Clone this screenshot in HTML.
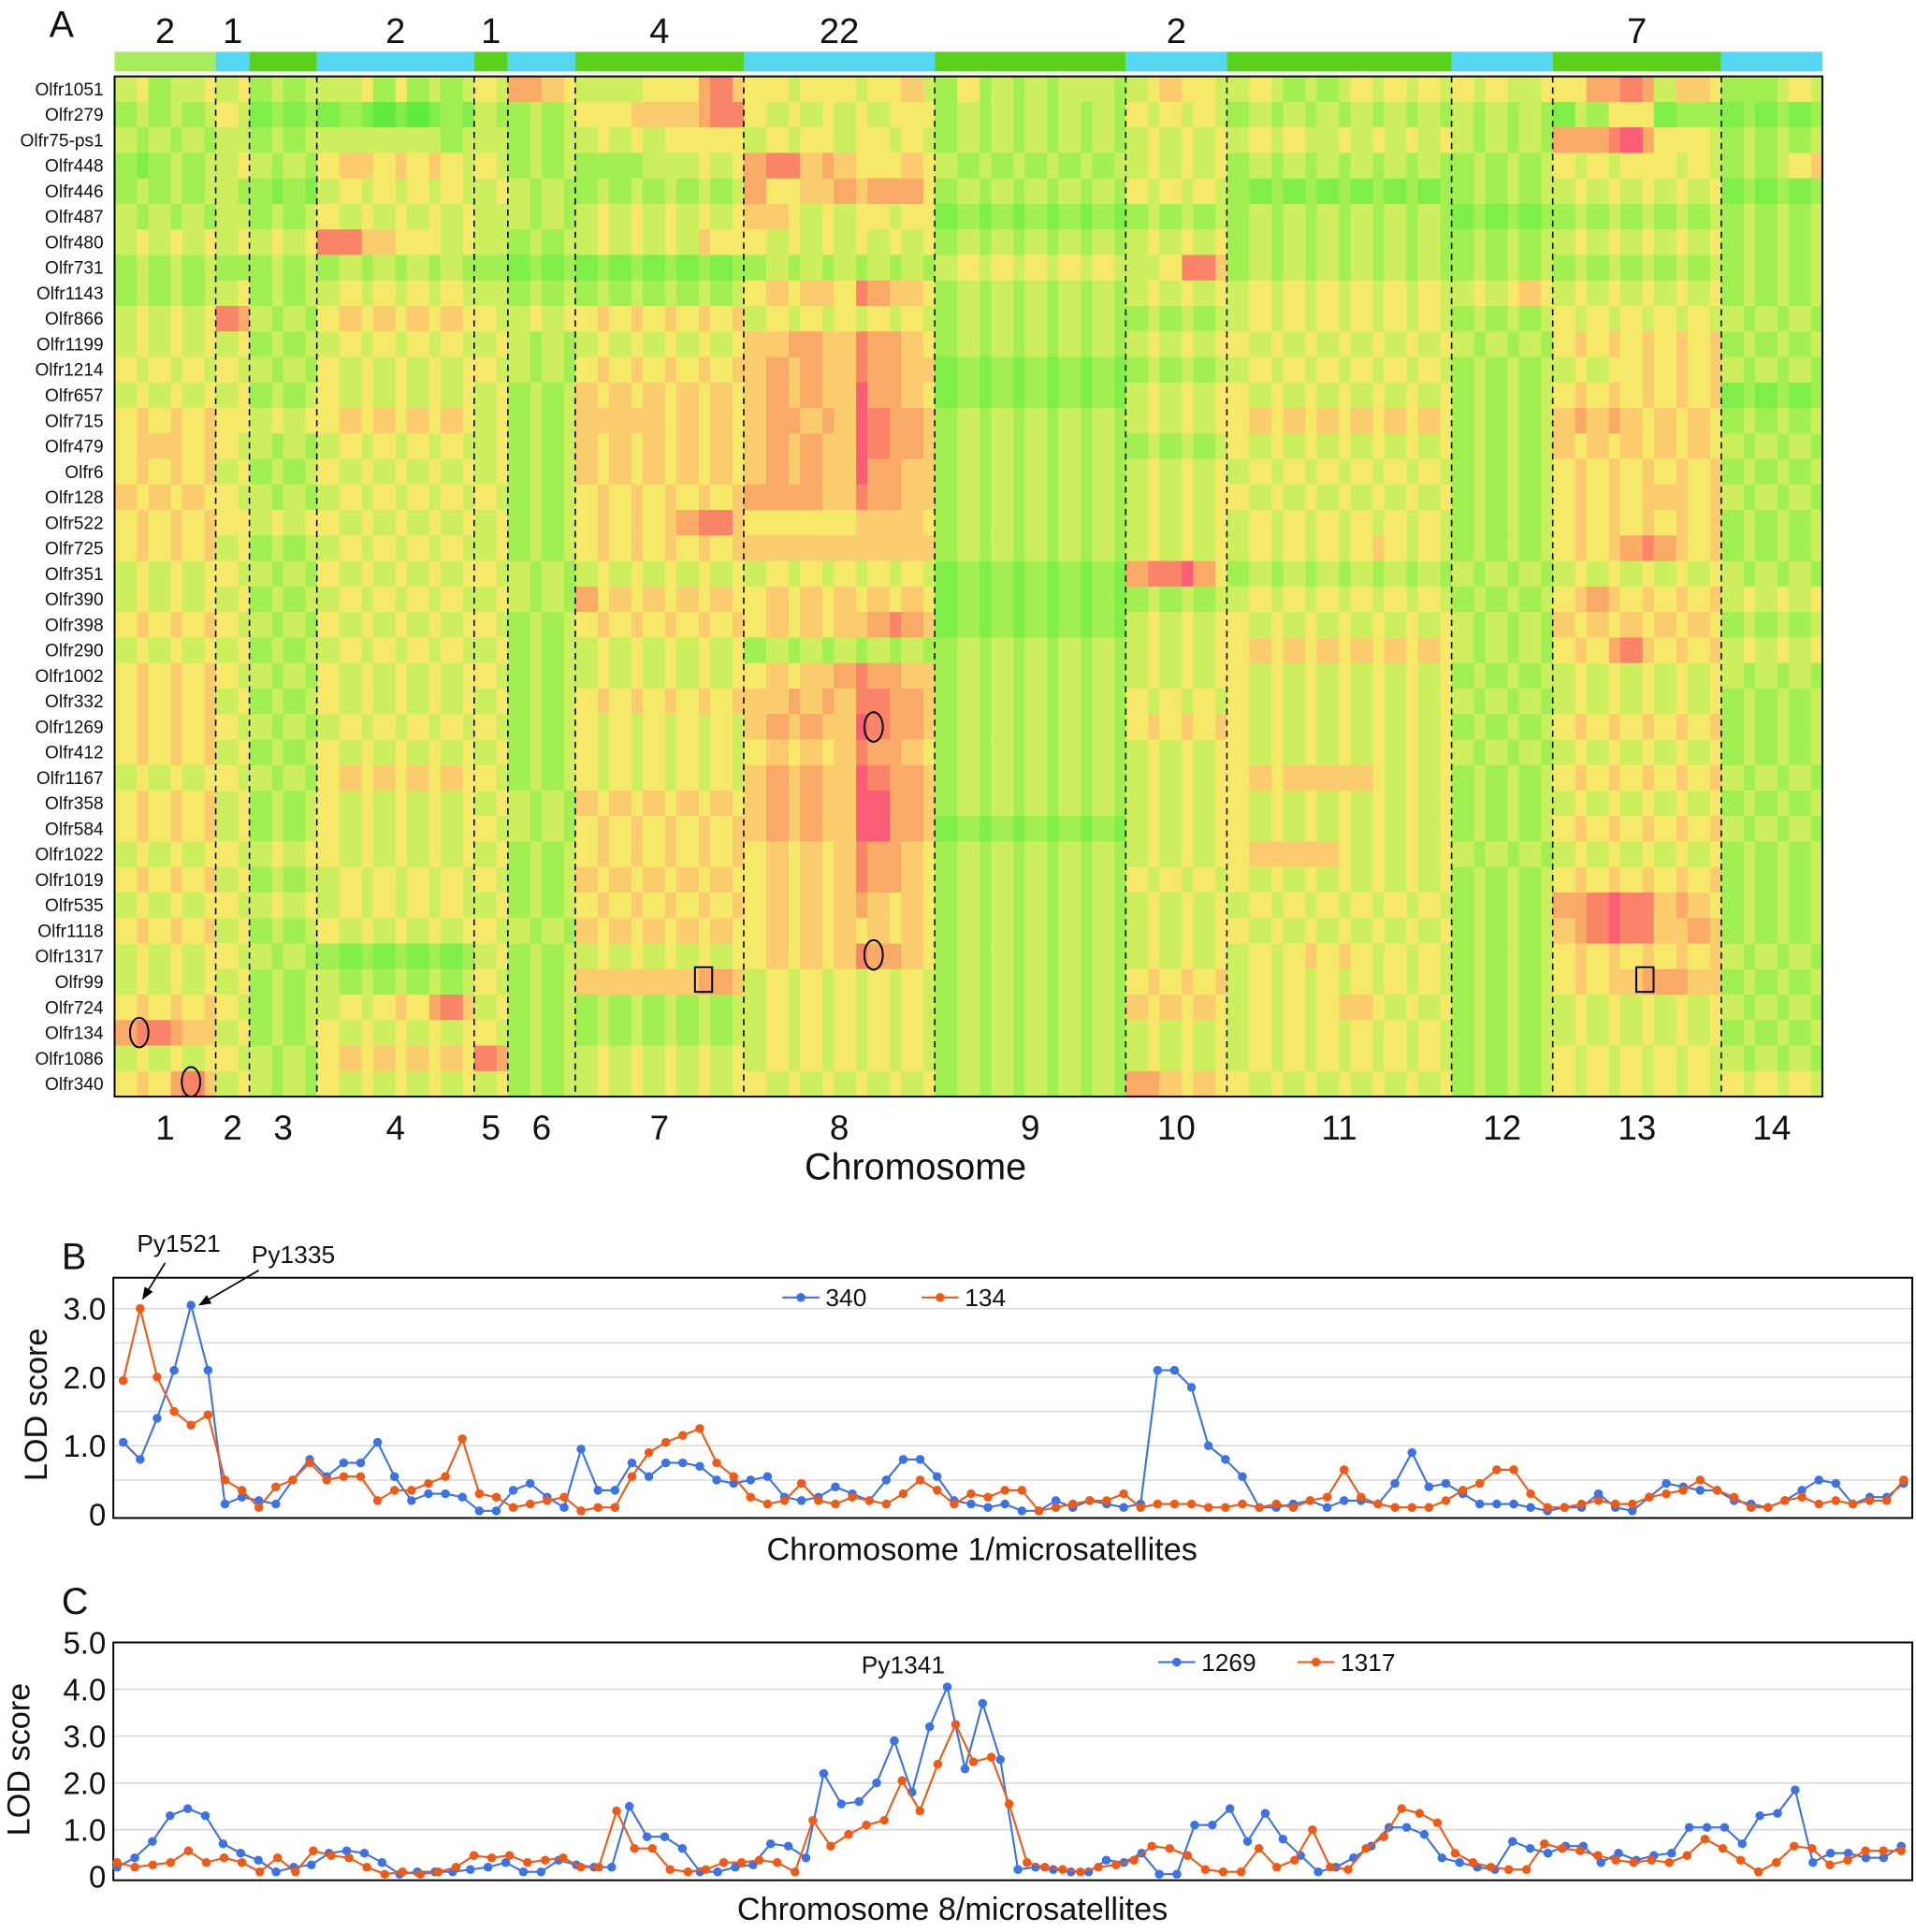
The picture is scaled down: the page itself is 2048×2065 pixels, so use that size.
<!DOCTYPE html>
<html><head><meta charset="utf-8"><title>Olfr eQTL heatmap and LOD plots</title>
<style>
html,body{margin:0;padding:0;background:#fff;}
svg{display:block;font-family:"Liberation Sans",Arial,sans-serif;}
</style></head>
<body>
<svg id="fig" width="2048" height="2065" viewBox="0 0 1555 1568" preserveAspectRatio="none" xmlns="http://www.w3.org/2000/svg">
<rect width="1555" height="1568" fill="#fff"/>
<g id="heat"></g>
<g id="panelB"></g>
<g id="panelC"></g>
</svg>
<script>
const NS="http://www.w3.org/2000/svg";
function mk(parent,tag,attrs,text){const e=document.createElementNS(NS,tag);for(const k in attrs)e.setAttribute(k,attrs[k]);if(text!==undefined)e.textContent=text;parent.appendChild(e);return e;}

// ===== Panel A data =====
const geneNames=["Olfr1051","Olfr279","Olfr75-ps1","Olfr448","Olfr446","Olfr487","Olfr480","Olfr731","Olfr1143","Olfr866","Olfr1199","Olfr1214","Olfr657","Olfr715","Olfr479","Olfr6","Olfr128","Olfr522","Olfr725","Olfr351","Olfr390","Olfr398","Olfr290","Olfr1002","Olfr332","Olfr1269","Olfr412","Olfr1167","Olfr358","Olfr584","Olfr1022","Olfr1019","Olfr535","Olfr1118","Olfr1317","Olfr99","Olfr724","Olfr134","Olfr1086","Olfr340"];
const chromLabels=["1","2","3","4","5","6","7","8","9","10","11","12","13","14"];
const chromCols=[9,3,6,14,3,6,15,17,17,9,20,9,15,9];
const topCounts=[["2",0],["1",1],["2",3],["1",4],["4",6],["22",7],["2",9],["7",12]];
const heatRows=[
"453445 45 3434 445353434 54 7765 4444555786 55455545564 35343434443 456554 4543434545454 545445 5577874665 333454",
"343434 54 2323 232121232 43 3434 5556666788 54545454555 34343434343 545454 3434343434343 434343 2435552333 232323",
"434343 44 3434 444444434 44 3434 4545455555 45455455454 34343434343 454545 4545445454545 434343 7778975554 343434",
"323434 45 4343 566565654 54 3434 3333444545 78867655565 43434343434 454545 3434343434343 343434 5454555454 343456",
"343434 43 3232 454545454 45 4343 3434343434 75566767775 34343434343 545454 3232323232323 343434 4545454545 232323",
"434343 44 3434 545454545 44 4343 4545454545 66545455455 23232323232 343434 3434343434343 232323 3434343434 343434",
"454545 45 4545 886655545 44 3434 4545454655 54545454545 34343434343 454545 3434343434343 343434 4545454545 343434",
"343434 33 3434 343434343 33 2323 2323232323 34343434343 45454545454 445886 3434343434343 343434 3434343434 343434",
"343434 45 3434 454545454 44 3434 3434343434 56566587665 34343434343 454545 4545454545454 454565 4545454545 343434",
"454545 87 4343 565656565 54 4545 5656565656 45454545454 34343434343 343434 4545454545454 343434 5454545454 434343",
"454545 45 3434 454545454 45 4343 4545454545 66776687765 34343434343 454545 5454545454545 434343 5656565656 343434",
"545454 54 4343 545454545 54 4343 5656565656 67676687766 23232323232 343434 4545454545454 343434 4545565656 434343",
"454545 45 3434 545454545 45 3434 6565656565 67676697765 23232323232 454545 5454545454545 343434 5656565656 232323",
"565656 55 4545 565656565 45 3434 6666656565 67767698776 34343434343 454545 5656565656565 343434 6767656565 343434",
"566656 54 4343 454545454 45 3434 6565656565 67676698776 34343434343 343434 5454545454545 343434 6565656565 434343",
"565656 45 3434 545454545 45 3434 6565656565 67676697766 34343434343 454545 4545454545454 343434 5656565656 343434",
"656565 54 4343 454545454 54 3434 5656565656 77776687766 34343434343 454545 5454545454545 343434 5656566656 434343",
"565656 55 4545 545454545 45 3434 5656567886 55555566665 34343434343 454545 4545454545454 343434 5656565656 343434",
"565656 45 3434 454545454 45 3434 5656565656 66666666666 34343434343 454545 4545454565454 343434 5656787656 343434",
"454545 54 4343 545454545 54 4343 4545454545 45454545454 23232323232 788975 3434343434343 434343 4545454545 434343",
"454545 45 3434 454545454 45 4343 7565656565 56565656565 23232323232 343434 4545454545454 343434 5676565656 454545",
"565656 54 4343 545454545 54 3434 5656565656 56565667876 23232323232 454545 5454545454545 434343 6565656565 343434",
"454545 45 3434 454545454 45 3434 4545454545 34343434343 34343434343 454545 5656565656565 434343 5657865656 454545",
"565656 54 4343 545454545 54 3434 4545454545 56566787766 34343434343 454545 5454545454545 343434 4545454545 434343",
"565656 45 3434 545454545 45 3434 5656565656 66767688776 34343434343 545454 5454545454545 434343 4545454545 343434",
"565656 54 4343 454545454 54 3434 5454545454 67676698776 34343434343 565656 5454545454545 343434 5656565656 343434",
"565656 45 3434 545454545 45 3434 5454545454 56565687765 34343434343 454545 5454545454545 434343 4545454545 343434",
"454545 54 4343 565656565 54 3434 5454545454 67676698776 34343434343 454545 5656666654545 343434 5656565656 434343",
"565656 45 3434 545454545 45 4343 6565656565 67676699776 34343434343 454545 5454545454545 343434 4545454545 343434",
"565656 45 3434 545454545 54 4343 5656565656 67676699776 23232323232 454545 5454545454545 343434 5656565656 434343",
"454545 54 4545 545454545 45 3434 5656565656 56565687765 34343434343 454545 5666665454545 434343 4545454545 343434",
"565656 45 3434 454545454 54 3434 6565656565 56565687765 34343434343 545454 5454545454545 343434 5656565656 343434",
"454545 54 4545 454545454 45 3434 5656565656 56565676565 34343434343 454545 4545454545454 343434 7789886765 343434",
"565656 45 3434 545454545 54 4343 6565656565 56565656565 34343434343 454545 5454545454545 343434 6789886676 343434",
"454545 54 4343 323232323 45 3434 4545454545 56565687765 34343434343 454545 4545656545454 343434 5656565656 434343",
"454545 45 3434 434343434 54 3434 6666666776 45454545454 34343434343 565656 4545454545454 343434 5656677766 343434",
"565656 54 3434 454565786 45 3434 3434343434 45454545454 34343434343 656565 4545456654545 343434 4545454545 434343",
"788766 45 3434 545454545 54 3434 3434343434 45454545454 34343434343 454545 4545454545454 343434 4545454545 343434",
"454545 54 4343 565656565 87 3434 4545454545 45454545454 34343434343 454545 4545454545454 343434 5454545454 434343",
"565786 45 4343 545454545 45 3434 4545454545 54545454545 34343434343 776565 5454545454545 343434 5454545454 545454"
];

// ===== Panel B data =====
const seriesB340=[1.05,0.8,1.4,2.1,3.05,2.1,0.15,0.25,0.2,0.15,0.5,0.8,0.55,0.75,0.75,1.05,0.55,0.2,0.3,0.3,0.25,0.05,0.05,0.35,0.45,0.25,0.1,0.95,0.35,0.35,0.75,0.55,0.75,0.75,0.7,0.5,0.45,0.5,0.55,0.25,0.2,0.25,0.4,0.3,0.2,0.5,0.8,0.8,0.55,0.2,0.15,0.1,0.15,0.05,0.05,0.2,0.1,0.2,0.15,0.1,0.15,2.1,2.1,1.85,1.0,0.8,0.55,0.1,0.1,0.15,0.2,0.1,0.2,0.2,0.15,0.45,0.9,0.4,0.45,0.3,0.15,0.15,0.15,0.1,0.05,0.1,0.1,0.3,0.1,0.05,0.25,0.45,0.4,0.35,0.35,0.2,0.15,0.1,0.2,0.35,0.5,0.45,0.15,0.25,0.25,0.45];
const seriesB134=[1.95,3.0,2.0,1.5,1.3,1.45,0.5,0.35,0.1,0.4,0.5,0.75,0.5,0.55,0.55,0.2,0.35,0.35,0.45,0.55,1.1,0.3,0.25,0.1,0.15,0.2,0.25,0.05,0.1,0.1,0.55,0.9,1.05,1.15,1.25,0.75,0.55,0.25,0.15,0.2,0.45,0.2,0.15,0.25,0.2,0.15,0.3,0.5,0.35,0.15,0.3,0.25,0.35,0.35,0.05,0.1,0.15,0.2,0.2,0.3,0.1,0.15,0.15,0.15,0.1,0.1,0.15,0.1,0.15,0.1,0.2,0.25,0.65,0.25,0.15,0.1,0.1,0.1,0.2,0.35,0.45,0.65,0.65,0.3,0.1,0.1,0.15,0.2,0.15,0.15,0.25,0.3,0.35,0.5,0.35,0.25,0.1,0.1,0.2,0.25,0.15,0.2,0.15,0.2,0.2,0.5];
const ticksB=[0,1,2,3];
const tickLabelsB=["0","1.0","2.0","3.0"];
const gridB=[0.5,1,1.5,2,2.5,3];

// ===== Panel C data =====
const seriesC1269=[0.2,0.4,0.75,1.3,1.45,1.3,0.7,0.5,0.35,0.1,0.2,0.25,0.5,0.55,0.5,0.3,0.05,0.1,0.1,0.1,0.15,0.2,0.3,0.1,0.1,0.35,0.25,0.2,0.2,1.5,0.85,0.85,0.6,0.1,0.1,0.2,0.25,0.7,0.65,0.4,2.2,1.55,1.6,2.0,2.9,1.8,3.2,4.05,2.3,3.7,2.5,0.15,0.2,0.15,0.1,0.1,0.35,0.3,0.5,0.05,0.05,1.1,1.1,1.45,0.75,1.35,0.8,0.45,0.1,0.2,0.4,0.65,1.05,1.05,0.9,0.4,0.3,0.2,0.15,0.75,0.6,0.5,0.65,0.65,0.3,0.5,0.35,0.45,0.5,1.05,1.05,1.05,0.7,1.3,1.35,1.85,0.3,0.5,0.5,0.4,0.4,0.65];
const seriesC1317=[0.3,0.2,0.25,0.3,0.55,0.3,0.4,0.3,0.1,0.4,0.1,0.55,0.45,0.4,0.2,0.05,0.1,0.05,0.1,0.2,0.45,0.4,0.45,0.3,0.35,0.4,0.2,0.2,1.4,0.6,0.6,0.15,0.1,0.15,0.3,0.3,0.35,0.3,0.1,1.2,0.65,0.9,1.1,1.2,2.05,1.4,2.4,3.25,2.45,2.55,1.55,0.3,0.2,0.15,0.1,0.2,0.25,0.35,0.65,0.6,0.45,0.15,0.1,0.1,0.6,0.2,0.35,1.0,0.2,0.15,0.6,0.85,1.45,1.35,1.15,0.5,0.3,0.2,0.15,0.15,0.7,0.6,0.55,0.45,0.35,0.3,0.35,0.3,0.45,0.8,0.6,0.35,0.1,0.3,0.65,0.6,0.25,0.35,0.55,0.55,0.55];
const ticksC=[0,1,2,3,4,5];
const tickLabelsC=["0","1.0","2.0","3.0","4.0","5.0"];
const gridC=[1,2,3,4,5];

// ===== Draw heatmap =====
const palette=["#4fe63a","#62ea40","#80ee48","#a2ef52","#cdef5e","#f6e969","#fbcc6e","#f9aa66","#f98468","#fa5e74"];
const bandColors=["#a6ec5c","#55d6f2","#5ad11a","#55d6f2","#5ad11a","#55d6f2","#5ad11a","#55d6f2","#5ad11a","#55d6f2","#5ad11a","#55d6f2","#5ad11a","#55d6f2"];
const H=document.getElementById('heat');
const hx0=93,hx1=1479,hy0=62,hy1=890;
const totalCols=chromCols.reduce((a,b)=>a+b,0);
const cw=(hx1-hx0)/totalCols, rh=(hy1-hy0)/geneNames.length;
const colX=c=>hx0+c*cw, rowY=r=>hy0+r*rh;
const chromStart=[];let acc=0;chromCols.forEach(n=>{chromStart.push(acc);acc+=n;});

heatRows.forEach((row,r)=>{
  const segs=row.split(' ');
  segs.forEach((s,ci)=>{
    const n=chromCols[ci];
    for(let k=0;k<n;k++){
      const v=+s[Math.min(s.length-1,Math.floor(k*s.length/n))];
      const c=chromStart[ci]+k;
      const cell=mk(H,'rect',{x:colX(c),y:rowY(r),width:cw+0.6,height:rh+0.6,fill:palette[v]});
      
      
    }
  });
});
geneNames.forEach((g,r)=>{
  const t=mk(H,'text',{x:84,y:rowY(r)+rh/2+5,'text-anchor':'end','font-size':14.5,fill:'#111'},g);
  
  
});
chromCols.forEach((n,ci)=>{
  const xa=colX(chromStart[ci]), xb=colX(chromStart[ci]+n);
  const b=mk(H,'rect',{x:xa,y:42,width:xb-xa,height:16,fill:bandColors[ci]});
  
  
  if(ci>0){
    const l=mk(H,'line',{x1:xa,y1:hy0,x2:xa,y2:hy1,stroke:'#000','stroke-width':1.2,'stroke-dasharray':'5,4'});
    
    
  }
  const t=mk(H,'text',{x:(xa+xb)/2,y:925,'text-anchor':'middle','font-size':28,fill:'#111'},chromLabels[ci]);
  
  
});
topCounts.forEach(([txt,ci])=>{
  const xa=colX(chromStart[ci]), xb=colX(chromStart[ci]+chromCols[ci]);
  const t=mk(H,'text',{x:(xa+xb)/2,y:35,'text-anchor':'middle','font-size':29,fill:'#111'},txt);
  
  
});
mk(H,'rect',{x:hx0,y:hy0,width:hx1-hx0,height:hy1-hy0,fill:'none',stroke:'#000','stroke-width':1.5});
const tA=mk(H,'text',{x:40,y:30,'font-size':30,fill:'#111'},'A');


const tX=mk(H,'text',{x:743,y:957,'text-anchor':'middle','font-size':30,fill:'#111'},'Chromosome');


[[113,838],[155,878],[709,590],[709,775]].forEach(([x,y])=>{
  const e=mk(H,'ellipse',{cx:x,cy:y,rx:7.5,ry:12,fill:'none',stroke:'#000','stroke-width':1.5});
  
  
});
[[571,795],[1335,795]].forEach(([x,y])=>{
  const e=mk(H,'rect',{x:x-7,y:y-10,width:14,height:20,fill:'none',stroke:'#000','stroke-width':1.5});
  
  
});

// ===== Line chart helper =====
function lineChart(gid,box,ymax,ticks,tickLabels,grid,series,colors,names,legendX,legendY){
  const G=document.getElementById(gid);
  const yS=v=>box.y1-3-(v/ymax)*(box.y1-3-box.yTop);
  grid.forEach(v=>{
    const l=mk(G,'line',{x1:box.x0,x2:box.x1,y1:yS(v),y2:yS(v),stroke:'#d8d8d8','stroke-width':1.2});
    
    
  });
  const fr=mk(G,'rect',{x:box.x0,y:box.y0,width:box.x1-box.x0,height:box.y1-box.y0,fill:'none',stroke:'#000','stroke-width':1.5});
  
  
  ticks.forEach((v,i)=>{
    const t=mk(G,'text',{x:box.x0-6,y:yS(v)+9,'text-anchor':'end','font-size':25,fill:'#111'},tickLabels[i]);
    
    
  });
  const xS=(i,n)=>box.px0+i*(box.px1-box.px0)/(n-1);
  series.forEach((s,si)=>{
    const pts=s.map((v,i)=>xS(i,s.length)+','+yS(v)).join(' ');
    const pl=mk(G,'polyline',{points:pts,fill:'none',stroke:colors[si],'stroke-width':1.6});
    
    
    s.forEach((v,i)=>{
      const c=mk(G,'circle',{cx:xS(i,s.length),cy:yS(v),r:3.6,fill:colors[si]});
      
      
    });
    const lx=legendX[si];
    const lg=mk(G,'g',{});
    
    
    mk(lg,'line',{x1:lx,x2:lx+30,y1:legendY,y2:legendY,stroke:colors[si],'stroke-width':1.6});
    mk(lg,'circle',{cx:lx+15,cy:legendY,r:3.6,fill:colors[si]});
    mk(lg,'text',{x:lx+35,y:legendY+7,'font-size':20,fill:'#111'},names[si]);
  });
  return {G,yS,xS};
}

const BLUE="#3b72e6", ORANGE="#f05a14";
const cb=lineChart('panelB',{x0:92,x1:1552,y0:1037,y1:1232,yTop:1062,px0:100,px1:1545},3.0,ticksB,tickLabelsB,gridB,[seriesB340,seriesB134],[BLUE,ORANGE],["340","134"],[635,748],1053);
const cc=lineChart('panelC',{x0:92,x1:1552,y0:1333,y1:1526,yTop:1333,px0:95,px1:1543},5.0,ticksC,tickLabelsC,gridC,[seriesC1269,seriesC1317],[BLUE,ORANGE],["1269","1317"],[940,1053],1349);

function label(G,x,y,txt,size,name,anchor,rot){
  const a={x:x,y:y,'font-size':size,fill:'#111','text-anchor':anchor||'start'};
  if(rot) a.transform='rotate(-90 '+x+' '+y+')';
  const t=mk(G,'text',a,txt);
  
  
  return t;
}
label(cb.G,50,1030,'B',30,'panel-b-label','start');
label(cb.G,38,1140,'LOD score',26,'y-axis-title-b','middle',true);
label(cb.G,797,1266,'Chromosome 1/microsatellites',26,'x-axis-title-b','middle');
label(cb.G,145,1016,'Py1521',20,'annotation-py1521','middle');
label(cb.G,238,1025,'Py1335',20,'annotation-py1335','middle');
label(cc.G,50,1310,'C',30,'panel-c-label','start');
label(cc.G,24,1428,'LOD score',26,'y-axis-title-c','middle',true);
label(cc.G,773,1558,'Chromosome 8/microsatellites',26,'x-axis-title-c','middle');
label(cc.G,733,1358,'Py1341',20,'annotation-py1341','middle');

const defs=mk(document.getElementById('fig'),'defs',{});
const mkr=mk(defs,'marker',{id:'ah',markerWidth:10,markerHeight:8,refX:9,refY:4,orient:'auto',markerUnits:'userSpaceOnUse'});
mk(mkr,'path',{d:'M0,0 L10,4 L0,8 Z',fill:'#000'});
const a1=mk(cb.G,'line',{x1:134,y1:1025,x2:116,y2:1054,stroke:'#000','stroke-width':1.3,'marker-end':'url(#ah)'});


const a2=mk(cb.G,'line',{x1:210,y1:1031,x2:162,y2:1059,stroke:'#000','stroke-width':1.3,'marker-end':'url(#ah)'});


</script>
</body></html>
